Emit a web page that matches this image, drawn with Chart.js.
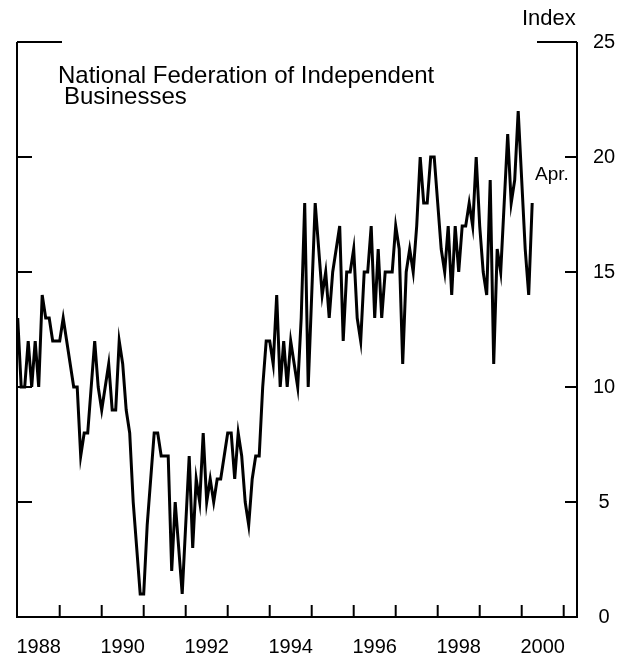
<!DOCTYPE html>
<html>
<head>
<meta charset="utf-8">
<script src="https://cdn.jsdelivr.net/npm/chart.js@4.4.1/dist/chart.umd.min.js"></script>
<style>
  html, body { margin: 0; padding: 0; background: #fff; }
  #wrap { width: 644px; height: 659px; }
</style>
</head>
<body>
<div id="wrap"><canvas id="nfibChart" width="644" height="659"></canvas></div>
<script>
// NFIB index, monthly from Jan 1988 to Apr 2000
const startYear = 1988;
const index88to91 = [
  13, 10, 10, 12, 10, 12, 10, 14, 13, 13, 12, 12,
  12, 13, 12, 11, 10, 10, 7, 8, 8, 10, 12, 10,
  9, 10, 11, 9, 9, 12, 11, 9, 8, 5, 3, 1,
  1, 4, 6, 8, 8, 7, 7, 7, 2, 5, 3, 1
];
const index92to95 = [
  4, 7, 3, 6, 5, 8, 5, 6, 5, 6, 6, 7,
  8, 8, 6, 8, 7, 5, 4, 6, 7, 7, 10, 12,
  12, 11, 14, 10, 12, 10, 12, 11, 10, 13, 18, 10,
  14, 18, 16, 14, 15, 13, 15, 16, 17, 12, 15, 15
];
const index96to00 = [
  16, 13, 12, 15, 15, 17, 13, 16, 13, 15, 15, 15,
  17, 16, 11, 15, 16, 15, 17, 20, 18, 18, 20, 20,
  18, 16, 15, 17, 14, 17, 15, 17, 17, 18, 17, 20,
  17, 15, 14, 19, 11, 16, 15, 18, 21, 18, 19, 22,
  19, 16, 14, 18
];
const yearLabels = [1988, 1990, 1992, 1994, 1996, 1998, 2000];
const yTicks = [0, 5, 10, 15, 20, 25];

const allValues = index88to91.concat(index92to95, index96to00);
const points = allValues.map((v, i) => ({ x: i, y: v }));

const fontFam = '"Liberation Sans", Arial, Helvetica, sans-serif';

// frame, inward ticks and captions
const frame = {
  id: 'frame',
  afterDraw(chart) {
    const ctx = chart.ctx;
    const xs = chart.scales.x, ys = chart.scales.y;
    const a = chart.chartArea;
    ctx.save();
    ctx.strokeStyle = '#000';
    ctx.lineWidth = 2;
    ctx.beginPath();
    ctx.moveTo(a.left, a.top); ctx.lineTo(a.left, a.bottom);
    ctx.lineTo(a.right, a.bottom); ctx.lineTo(a.right, a.top);
    ctx.stroke();

    yTicks.forEach(v => {
      if (v === 0) return;
      const py = ys.getPixelForValue(v);
      const lenL = v === 25 ? 45 : 15;
      const lenR = v === 25 ? 40 : 12;
      ctx.beginPath();
      ctx.moveTo(a.left, py); ctx.lineTo(a.left + lenL, py);
      ctx.moveTo(a.right - lenR, py); ctx.lineTo(a.right, py);
      ctx.stroke();
    });

    for (let yr = startYear + 1; yr <= 2001; yr++) {
      const px = xs.getPixelForValue((yr - startYear) * 12);
      ctx.beginPath();
      ctx.moveTo(px, a.bottom); ctx.lineTo(px, a.bottom - 12);
      ctx.stroke();
    }

    ctx.fillStyle = '#000';
    ctx.textAlign = 'left';
    ctx.textBaseline = 'alphabetic';
    ctx.font = '22px ' + fontFam;
    ctx.fillText('Index', 522, 25);
    ctx.font = '24px ' + fontFam;
    ctx.fillText('National Federation of Independent', 58, 83);
    ctx.fillText('Businesses', 64, 104);
    ctx.textBaseline = 'middle';
    ctx.font = '19px ' + fontFam;
    ctx.fillText('Apr.', 535, 175);
    ctx.restore();
  }
};

new Chart(document.getElementById('nfibChart'), {
  type: 'line',
  data: {
    datasets: [{
      data: points,
      borderColor: '#000',
      borderWidth: 3,
      pointRadius: 0,
      tension: 0,
      fill: false
    }]
  },
  options: {
    responsive: false,
    animation: false,
    devicePixelRatio: 1,
    layout: { padding: { left: 17, top: 42, right: 0, bottom: 0 } },
    plugins: { legend: { display: false }, tooltip: { enabled: false } },
    scales: {
      x: {
        type: 'linear',
        min: -0.2,
        max: 159.8,
        grid: { display: false },
        border: { display: false },
        afterBuildTicks: s => { s.ticks = yearLabels.map(y => ({ value: (y - startYear) * 12 + 6 })); },
        afterFit: s => { s.height = 42; },
        ticks: {
          autoSkip: false,
          maxRotation: 0,
          padding: 10,
          color: '#000',
          font: { size: 20, family: fontFam },
          callback: v => String(startYear + (v - 6) / 12)
        }
      },
      y: {
        position: 'right',
        min: 0,
        max: 25,
        grid: { display: false },
        border: { display: false },
        afterBuildTicks: s => { s.ticks = yTicks.map(v => ({ value: v })); },
        afterFit: s => { s.width = 67; },
        ticks: {
          padding: 8,
          crossAlign: 'center',
          color: '#000',
          font: { size: 20, family: fontFam }
        }
      }
    }
  },
  plugins: [frame]
});
</script>
</body>
</html>
